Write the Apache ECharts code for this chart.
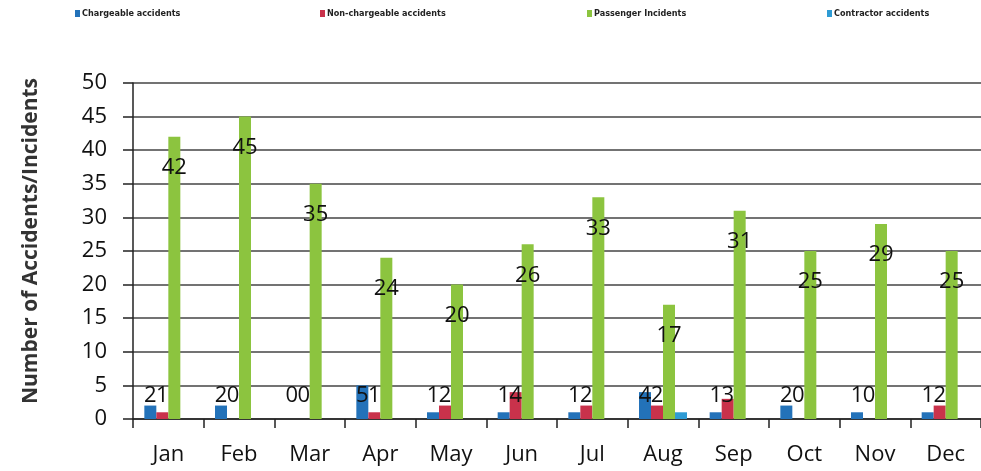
<!DOCTYPE html>
<html>
<head>
<meta charset="utf-8">
<script src="https://cdn.jsdelivr.net/npm/echarts@6/dist/echarts.min.js"></script>
<style>
html,body{margin:0;padding:0;background:#fff;}
#chart{width:981px;height:471px;}
</style>
</head>
<body>
<div id="chart"></div>
<script>
const months = ['Jan','Feb','Mar','Apr','May','Jun','Jul','Aug','Sep','Oct','Nov','Dec'];
const chargeable = [2,2,0,5,1,1,1,4,1,2,1,1];
const nonChargeable = [1,0,0,1,2,4,2,2,3,0,0,2];
const passenger = [42,45,35,24,20,26,33,17,31,25,29,25];
const contractor = [0,0,0,0,0,0,0,1,0,0,0,0];
const yTicks = [0,5,10,15,20,25,30,35,40,45,50];

const names = ['Chargeable accidents','Non-chargeable accidents','Passenger Incidents','Contractor accidents'];
const colors = ['#2372b9','#c9324b','#8cc43f','#2e9bd4'];
const legendX = [70, 315, 582, 822];

const chart = echarts.init(document.getElementById('chart'));
const fontFam = '"Open Sans", sans-serif';
const lowLabel = {show:true, position:'insideBottom', distance:0, offset:[0,-12], color:'#111', fontSize:22, fontFamily:fontFam};

const option = {
  animation:false,
  textStyle:{fontFamily:fontFam},
  legend: names.map((n,i)=>({
    data:[n], left:legendX[i], top:4, itemWidth:5, itemHeight:7, itemGap:0,
    textStyle:{fontSize:9, fontWeight:'bold', color:'#222', fontFamily:'"DejaVu Sans Condensed", "DejaVu Sans", sans-serif', padding:[0,0,0,-3]},
    icon:'rect', selectedMode:false
  })),
  grid:{left:133, right:-4, top:83, bottom:52, containLabel:false},
  xAxis:{
    type:'category', data:months,
    axisLine:{lineStyle:{color:'#222', width:1.5}},
    axisTick:{show:true, length:9, lineStyle:{color:'#222', width:1.5}},
    axisLabel:{color:'#111', fontSize:22, margin:25, fontFamily:fontFam},
    splitLine:{show:false}
  },
  yAxis:{
    type:'value', min:yTicks[0], max:yTicks[yTicks.length-1], interval:5,
    name:'Number of Accidents/Incidents', nameLocation:'middle', nameGap:91,
    nameTextStyle:{fontSize:21, fontWeight:'bold', color:'#333', fontFamily:fontFam, padding:[0,0,0,20]},
    axisLine:{show:true, lineStyle:{color:'#222', width:1.5}},
    axisTick:{show:true, length:10, lineStyle:{color:'#222', width:1.5}},
    axisLabel:{color:'#111', fontSize:22, margin:26, fontFamily:fontFam},
    splitLine:{show:true, lineStyle:{color:'#444', width:1.5}}
  },
  series:[
    {name:names[0], type:'bar', data:chargeable, barWidth:12, barGap:'0%', itemStyle:{color:colors[0]}, label:lowLabel},
    {name:names[1], type:'bar', data:nonChargeable, barWidth:12, barGap:'0%', itemStyle:{color:colors[1]}, label:lowLabel},
    {name:names[2], type:'bar', data:passenger, barWidth:12, barGap:'0%', itemStyle:{color:colors[2]},
      label:{show:true, position:'insideTop', distance:0, offset:[0,20], color:'#111', fontSize:22, fontFamily:fontFam}},
    {name:names[3], type:'bar', data:contractor, barWidth:12, barGap:'0%', itemStyle:{color:colors[3]}}
  ]
};
chart.setOption(option);
</script>
</body>
</html>
